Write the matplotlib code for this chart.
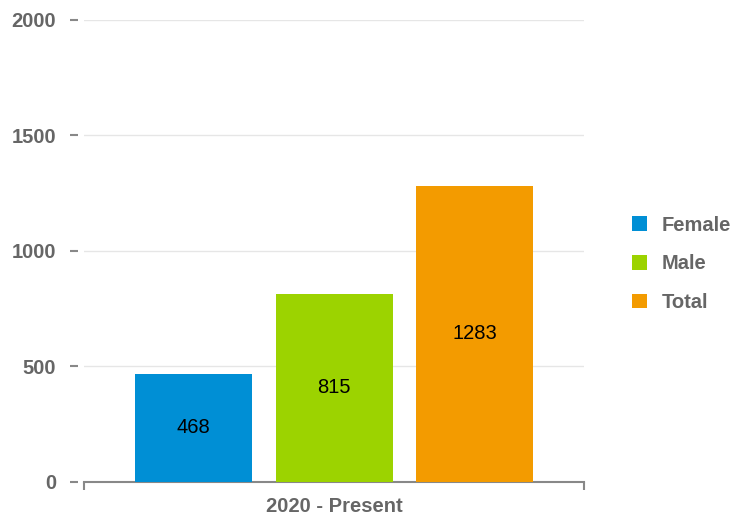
import matplotlib.pyplot as plt
from matplotlib.patches import Patch

# chart data
categories = ['Female', 'Male', 'Total']
values = [468, 815, 1283]
period = '2020 - Present'
yticks = [0, 500, 1000, 1500, 2000]

colors = ['#008fd5', '#9cd300', '#f39b00']
text_grey = '#666666'
line_grey = '#888888'

plt.rcParams['font.family'] = ['Liberation Sans', 'DejaVu Sans']

fig = plt.figure(figsize=(7.42, 5.2), dpi=100)
ax = fig.add_axes([0.1132, 0.0731, 0.674, 0.8885])

pos = list(range(len(values)))
bars = ax.bar(pos, values, width=0.83, color=colors, zorder=3)

# value labels in the middle of each bar
for b, v in zip(bars, values):
    ax.text(b.get_x() + b.get_width() / 2, v / 2, str(v),
            ha='center', va='center', fontsize=14.5, color='black', zorder=4)

ax.set_xlim(-0.775, len(values) - 1 + 0.775)
ax.set_ylim(0, 2000)

# y axis: ticks a bit detached from the plot area
ax.set_yticks(yticks)
ax.set_yticklabels([str(t) for t in yticks])
ax.spines['left'].set_visible(False)
ax.spines['left'].set_position(('outward', 4))
ax.spines['top'].set_visible(False)
ax.spines['right'].set_visible(False)
ax.spines['bottom'].set_color(line_grey)
ax.spines['bottom'].set_linewidth(1.5)
ax.tick_params(axis='y', length=6, width=1.5, color=line_grey, pad=10,
               labelsize=14.5, labelcolor=text_grey)
for lbl in ax.get_yticklabels():
    lbl.set_fontweight('bold')

ax.yaxis.grid(True, color='#e6e6e6', linewidth=1, zorder=0)
ax.set_axisbelow(True)

# x axis: single category label and boundary ticks
ax.set_xticks([1])
ax.set_xticklabels([period])
ax.tick_params(axis='x', length=0, pad=11, labelsize=14.5, labelcolor=text_grey)
for lbl in ax.get_xticklabels():
    lbl.set_fontweight('bold')
ax.set_xticks(list(ax.get_xlim()), minor=True)
ax.tick_params(axis='x', which='minor', length=6, width=1.5,
               color=line_grey, direction='out')

handles = [Patch(facecolor=c, edgecolor='none') for c in colors]
leg = ax.legend(handles, categories, loc='center left',
                bbox_to_anchor=(1.076, 0.472), frameon=False,
                handlelength=0.75, handleheight=0.75, handletextpad=0.7,
                labelspacing=0.97, fontsize=14.5, borderpad=0)
for t in leg.get_texts():
    t.set_color(text_grey)
    t.set_fontweight('bold')

plt.savefig('out.png', dpi=100)
